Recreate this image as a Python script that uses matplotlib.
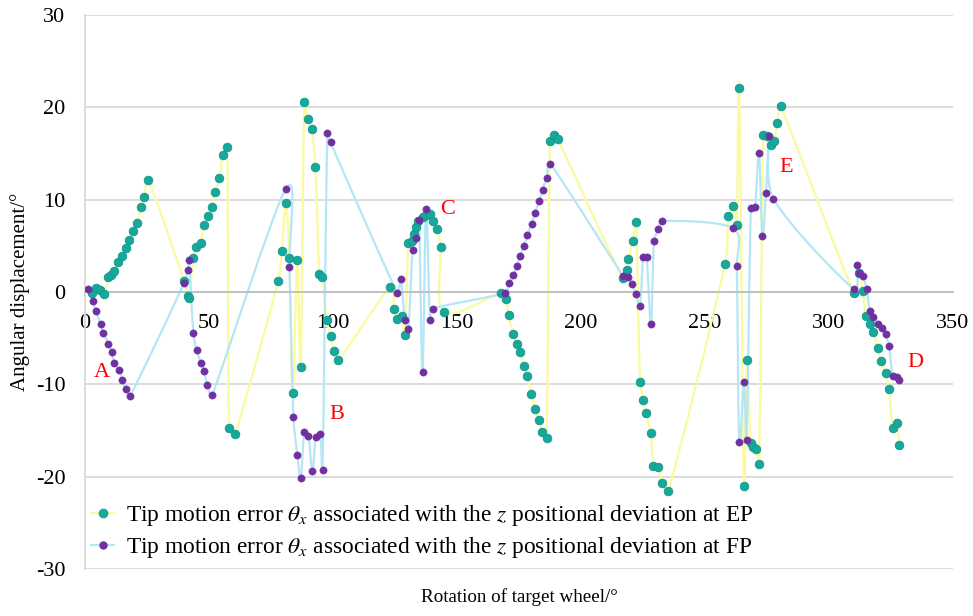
import numpy as np
import matplotlib
matplotlib.use("Agg")
import matplotlib.pyplot as plt
from matplotlib.path import Path
from matplotlib.patches import PathPatch
from matplotlib.lines import Line2D

plt.rcParams["font.family"] = ["Liberation Serif", "DejaVu Serif"]
plt.rcParams["mathtext.fontset"] = "stix"
plt.rcParams["axes.unicode_minus"] = False

# Tip motion error theta_x, z positional deviation at EP
ep_x = [2.7, 4.4, 6.0, 7.7, 9.4, 10.5, 11.7, 13.4, 14.8, 16.5, 17.9, 19.5, 21.1, 22.6, 23.9, 25.5,
        40.0, 41.7, 42.1, 43.7, 44.8, 46.6, 48.0, 49.5, 51.1, 52.4, 54.2, 55.5, 57.3,
        58.1, 60.5,
        77.9, 79.3, 81.0, 82.4, 83.8, 85.6, 87.0, 88.4, 89.8, 91.5, 92.9, 94.5, 95.7, 97.4, 99.0, 100.4, 102.1,
        123.0, 124.6, 125.9, 127.7, 129.0, 130.4, 132.0, 132.7, 133.5, 134.4, 136.2, 137.4, 139.1, 140.2, 142.1, 143.4, 144.8,
        167.6, 169.8, 170.8, 172.7, 174.1, 175.4, 177.0, 178.4, 180.0, 181.5, 183.1, 184.4, 186.1,
        187.5, 189.1, 190.6,
        216.8, 218.4, 219.1, 220.8, 222.2, 223.8, 225.1, 226.2, 228.1, 229.2, 231.2, 232.5, 235.2,
        258.1, 259.4, 261.4, 262.8, 263.8, 265.7, 266.8, 268.4, 269.5, 270.6, 271.8, 273.5, 274.9, 276.6, 277.9, 279.2, 280.5,
        310.1, 312.2, 313.6, 314.8, 316.5, 317.9, 319.6, 321.0, 322.8, 324.2, 325.7, 327.3, 328.4]
ep_y = [-0.1, 0.4, 0.2, -0.2, 1.6, 1.8, 2.3, 3.3, 3.9, 4.8, 5.6, 6.6, 7.5, 9.2, 10.3, 12.1,
        1.2, -0.4, -0.6, 3.7, 4.9, 5.3, 7.3, 8.2, 9.2, 10.8, 12.3, 14.8, 15.7,
        -14.7, -15.4,
        1.2, 4.4, 9.6, 3.7, -10.9, 3.5, -8.1, 20.6, 18.7, 17.6, 13.5, 2.0, 1.6, -3.0, -4.8, -6.4, -7.4,
        0.5, -1.8, -2.9, -2.6, -4.7, 5.3, 5.5, 6.3, 7.0, 7.7, 8.1, 8.3, 8.5, 7.7, 6.8, 4.9, -2.2,
        -0.1, -0.8, -2.5, -4.5, -5.6, -6.5, -8.0, -9.1, -11.0, -12.7, -13.9, -15.2, -15.8,
        16.3, 17.0, 16.6,
        1.5, 2.4, 3.6, 5.5, 7.6, -9.7, -11.7, -13.1, -15.3, -18.8, -18.9, -20.7, -21.6,
        3.0, 8.2, 9.3, 7.3, 22.1, -21.0, -7.4, -16.4, -16.8, -17.0, -18.6, 17.0, 16.9, 15.9, 16.3, 18.3, 20.1,
        -0.1, 2.1, 0.1, -2.6, -3.5, -4.3, -6.1, -7.5, -8.8, -10.5, -14.7, -14.2, -16.6]

# Tip motion error theta_x, z positional deviation at FP
fp_x = [1.3, 3.1, 4.4, 6.3, 7.4, 9.4, 10.7, 11.8, 13.8, 15.0, 16.5, 18.1,
        40.0, 41.4, 41.9, 43.7, 45.0, 46.8, 48.0, 49.3, 51.2,
        81.0, 82.4, 84.0, 85.6, 87.0, 88.4, 90.1, 91.7, 93.0, 94.8, 95.8, 97.7, 99.0,
        126.0, 127.3, 129.0, 130.4, 132.1, 133.5, 134.7, 136.1, 137.5, 139.1, 140.4,
        169.4, 171.1, 172.7, 174.1, 175.4, 177.0, 178.4, 180.1, 181.5, 183.2, 184.5, 186.1, 187.5,
        217.1, 219.1, 220.4, 222.2, 223.8, 225.1, 226.5, 228.2, 229.4, 231.2, 232.8,
        261.4, 262.8, 263.8, 265.7, 266.8, 268.5, 270.2, 271.8, 273.1, 274.6, 275.9, 277.6,
        310.1, 311.4, 312.2, 313.6, 315.2, 316.5, 317.9, 319.9, 321.2, 322.8, 324.2, 325.7, 327.3, 328.4]
fp_y = [0.3, -1.0, -2.1, -3.5, -4.4, -5.6, -6.5, -7.7, -8.4, -9.5, -10.5, -11.3,
        1.0, 2.4, 3.5, -4.4, -6.3, -7.7, -8.6, -10.1, -11.2,
        11.2, 2.7, -13.5, -17.6, -20.1, -15.2, -15.6, -19.4, -15.7, -15.4, -19.3, 17.2, 16.2,
        -0.1, 1.4, -3.0, -4.0, 4.6, 5.8, 7.8, -8.7, 9.0, -3.0, -1.8,
        -0.1, 1.0, 1.8, 2.8, 3.9, 5.0, 6.2, 7.4, 8.6, 9.9, 11.1, 12.4, 13.9,
        1.7, 1.6, 0.9, -0.2, -1.5, 3.8, 3.8, -3.5, 5.5, 6.8, 7.7,
        6.9, 2.8, -16.2, -9.8, -16.0, 9.1, 9.2, 15.1, 6.1, 10.7, 16.9, 10.1,
        0.3, 2.9, 2.1, 1.7, 0.3, -2.1, -2.7, -3.5, -3.9, -4.5, -5.9, -9.1, -9.2, -9.5]

x_ticks = [0, 50, 100, 150, 200, 250, 300, 350]
y_ticks = [-30, -20, -10, 0, 10, 20, 30]

ep_label = r"Tip motion error $\theta_x$ associated with the $z$ positional deviation at EP"
fp_label = r"Tip motion error $\theta_x$ associated with the $z$ positional deviation at FP"

# Marked regions
region_labels = ["A", "B", "C", "D", "E"]
region_pos = [(6.9, -8.7), (101.6, -13.3), (146.0, 8.9), (334.7, -7.6), (282.7, 13.5)]

EP_MARK = "#17A79B"
FP_MARK = "#7030A0"
EP_LINE = "#FAFA9E"
FP_LINE = "#B5E6F6"

fig = plt.figure(figsize=(9.73, 6.16), dpi=100)
ax = fig.add_axes([85 / 973, 1 - 569 / 616, (953 - 85) / 973, (569 - 15) / 616])
ax.set_xlim(0, 350)
ax.set_ylim(-30, 30)


def smooth_path(xs, ys, k=1 / 3):
    """Catmull-Rom Bezier path through the points; control arms are computed in
    display units and capped at k times the segment length to limit overshoot."""
    pts = np.column_stack([xs, ys]).astype(float)
    disp = ax.transData.transform(pts)
    n = len(disp)
    tang = np.array([(disp[min(i + 1, n - 1)] - disp[max(i - 1, 0)]) / 6.0 for i in range(n)])

    def cap(v, L):
        m = np.hypot(*v)
        return v * (k * L / m) if m > k * L and m > 0 else v

    verts = [disp[0]]
    codes = [Path.MOVETO]
    for i in range(n - 1):
        p1, p2 = disp[i], disp[i + 1]
        L = np.hypot(*(p2 - p1))
        verts += [p1 + cap(tang[i], L), p2 - cap(tang[i + 1], L), p2]
        codes += [Path.CURVE4] * 3
    data_verts = ax.transData.inverted().transform(np.array(verts))
    return Path(data_verts, codes)


ax.set_xticks(x_ticks)
ax.set_yticks(y_ticks)
ax.grid(axis="y", color="#D9D9D9", lw=1.3)
ax.set_axisbelow(True)
for s in ["top", "right"]:
    ax.spines[s].set_visible(False)
ax.spines["left"].set_color("#D9D9D9")
ax.spines["left"].set_linewidth(1.3)
ax.spines["bottom"].set_position(("data", 0))
ax.spines["bottom"].set_color("#BFBFBF")
ax.spines["bottom"].set_linewidth(1.3)
ax.tick_params(axis="both", length=0, labelsize=16)
ax.tick_params(axis="x", pad=15.5)
ax.tick_params(axis="y", pad=14)

ax.add_patch(PathPatch(smooth_path(ep_x, ep_y), fc="none", ec=EP_LINE, lw=1.6,
                       transform=ax.transData, zorder=2))
ax.add_patch(PathPatch(smooth_path(fp_x, fp_y), fc="none", ec=FP_LINE, lw=1.6,
                       transform=ax.transData, zorder=2.1))
ax.plot(ep_x, ep_y, ls="none", marker="o", ms=6.2, mfc=EP_MARK, mec="#109A8E",
        mew=0.6, zorder=3)
ax.plot(fp_x, fp_y, ls="none", marker="o", ms=5.2, mfc=FP_MARK, mec=FP_MARK,
        mew=0.4, zorder=3.1)

for lab, (lx, ly) in zip(region_labels, region_pos):
    ax.text(lx, ly, lab, color="red", fontsize=16, ha="center", va="center", zorder=4)

handles = [
    Line2D([], [], color=EP_LINE, lw=1.6, marker="o", ms=6, mfc=EP_MARK, mec=EP_MARK),
    Line2D([], [], color=FP_LINE, lw=1.6, marker="o", ms=5, mfc=FP_MARK, mec=FP_MARK),
]
leg = ax.legend(handles, [ep_label, fp_label], loc="upper left",
                bbox_to_anchor=(0.003, (569 - 500) / 554, 0.99, 0.0), mode="expand",
                fontsize=16.8, frameon=True, facecolor="white", edgecolor="none",
                framealpha=1, handlelength=1.0, handletextpad=0.5,
                labelspacing=0.3, borderpad=0.15, borderaxespad=0.0, fancybox=False)
leg.set_zorder(5)

ax.set_xlabel("Rotation of target wheel/°", fontsize=13.7)
ax.xaxis.set_label_coords(0.5, (569 - 588) / 554)
ax.set_ylabel("Angular displacement/°", fontsize=15)
ax.yaxis.set_label_coords((30 - 85) / 868, 0.5)

fig.savefig("out.png", dpi=100)
